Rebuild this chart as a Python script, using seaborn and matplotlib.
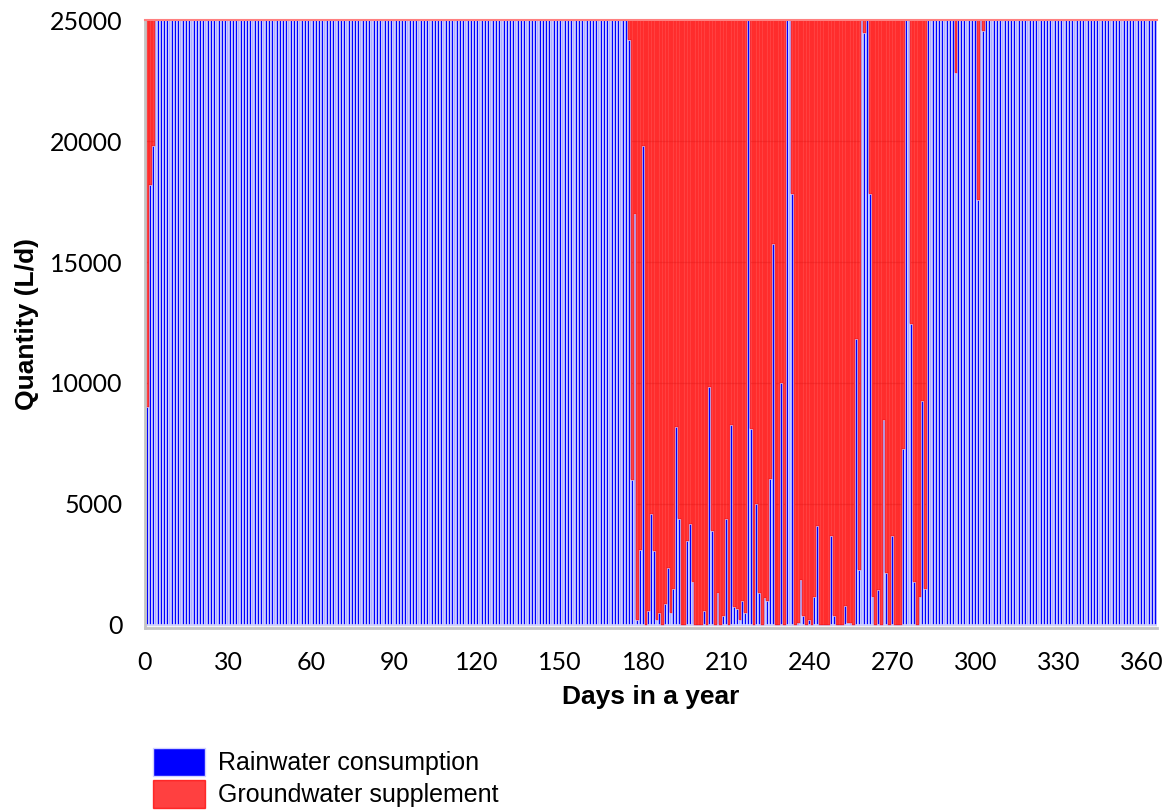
import numpy as np
import pandas as pd
import seaborn as sns
import matplotlib.pyplot as plt
from matplotlib.patches import Patch

# daily water demand of the building (L/d)
daily_demand = 25000

days = list(range(1, 366))

# rainwater used each day (L/d)
rain_use = (
    [9000, 18200, 19800]
    + [25000] * 171                      # days 4-174
    + [24200, 6000, 17000, 200, 3100, 19800, 0, 580, 4570, 3040,      # 175-184
       180, 500, 0, 870, 2350, 500, 1500, 8180, 4370, 0,              # 185-194
       0, 3480, 4150, 1770, 0, 0, 0, 570, 0, 9840,                    # 195-204
       3860, 0, 1300, 0, 380, 4370, 0, 8250, 750, 650,                # 205-214
       190, 980, 500, 25000, 8100, 0, 5000, 1300, 0, 1090,            # 215-224
       1000, 6030, 15750, 0, 0, 10020, 0, 25000, 25000, 17800,        # 225-234
       0, 80, 1860, 380, 0, 180, 0, 1170, 4070, 0,                    # 235-244
       0, 0, 0, 3660, 380, 0, 0, 0, 790, 80,                          # 245-254
       80, 0, 11800, 2250, 25000, 24480, 25000, 17800, 1170, 0,       # 255-264
       1450, 0, 8450, 2150, 0, 3660, 0, 0, 0, 7270,                   # 265-274
       25000, 25000, 12450, 1770, 0, 1170, 9240, 1480]                # 275-282
    + [25000] * 10                       # 283-292
    + [22800]                            # 293
    + [25000] * 7                        # 294-300
    + [17550, 25000, 24560]              # 301-303
    + [25000] * 62                       # 304-365
)

labels = ["Rainwater consumption", "Groundwater supplement"]
blue = "#0000ff"
blue_edge = "#d2d2ff"
red = "#ff0000"

df = pd.DataFrame({"day": days, "rain": rain_use})
df["ground"] = daily_demand - df["rain"]

sns.set_theme(style="white")
plt.rcParams["font.family"] = ["Lato", "DejaVu Sans"]
plt.rcParams["text.color"] = "black"

fig, ax = plt.subplots(figsize=(11.74, 8.11), dpi=100)
fig.subplots_adjust(left=0.1235, right=0.9855, bottom=0.226, top=0.975)

ax.yaxis.grid(True, color="#cccccc", linewidth=1)
ax.set_axisbelow(True)

sns.barplot(data=df, x="day", y="rain", native_scale=True, width=1.0,
            color=blue, saturation=1, edgecolor=blue_edge, linewidth=1.2,
            errorbar=None, ax=ax)
sns.barplot(data=df, x="day", y="ground", bottom=df["rain"].values,
            native_scale=True, width=1.0, color=red, saturation=1, alpha=0.75,
            edgecolor=red, linewidth=0.3, errorbar=None, ax=ax)

ax.set_xlim(0, 365.6)
ax.set_ylim(-120, 25000)
ax.set_xticks(range(0, 361, 30))
ax.set_yticks(range(0, 25001, 5000))

for side in ["left", "bottom"]:
    ax.spines[side].set_color("#c4c4c4")
    ax.spines[side].set_linewidth(2)
ax.spines["right"].set_visible(False)
ax.spines["top"].set_color("#ff8080")
ax.spines["top"].set_linewidth(1.5)

ax.tick_params(axis="both", direction="out", length=9, width=1.5,
               color="#c4c4c4", labelsize=18, labelcolor="black")
ax.tick_params(axis="x", pad=8)
ax.tick_params(axis="y", pad=7)

ax.set_xlabel("Days in a year", fontsize=19, fontweight="bold",
              family="Liberation Sans", labelpad=8, color="black")
ax.set_ylabel("Quantity (L/d)", fontsize=19, fontweight="bold",
              family="Liberation Sans", labelpad=8, color="black")

handles = [Patch(facecolor=blue, edgecolor=blue_edge, label=labels[0]),
           Patch(facecolor=red, alpha=0.75, edgecolor=red, label=labels[1])]
fig.legend(handles=handles, loc="lower left", bbox_to_anchor=(0.13, 0.004),
           frameon=False, prop={"family": "Liberation Sans", "size": 18},
           handlelength=2.1, handleheight=1.35, handletextpad=0.5,
           labelspacing=0.15, borderaxespad=0, borderpad=0)

fig.savefig("out.png", dpi=100)
